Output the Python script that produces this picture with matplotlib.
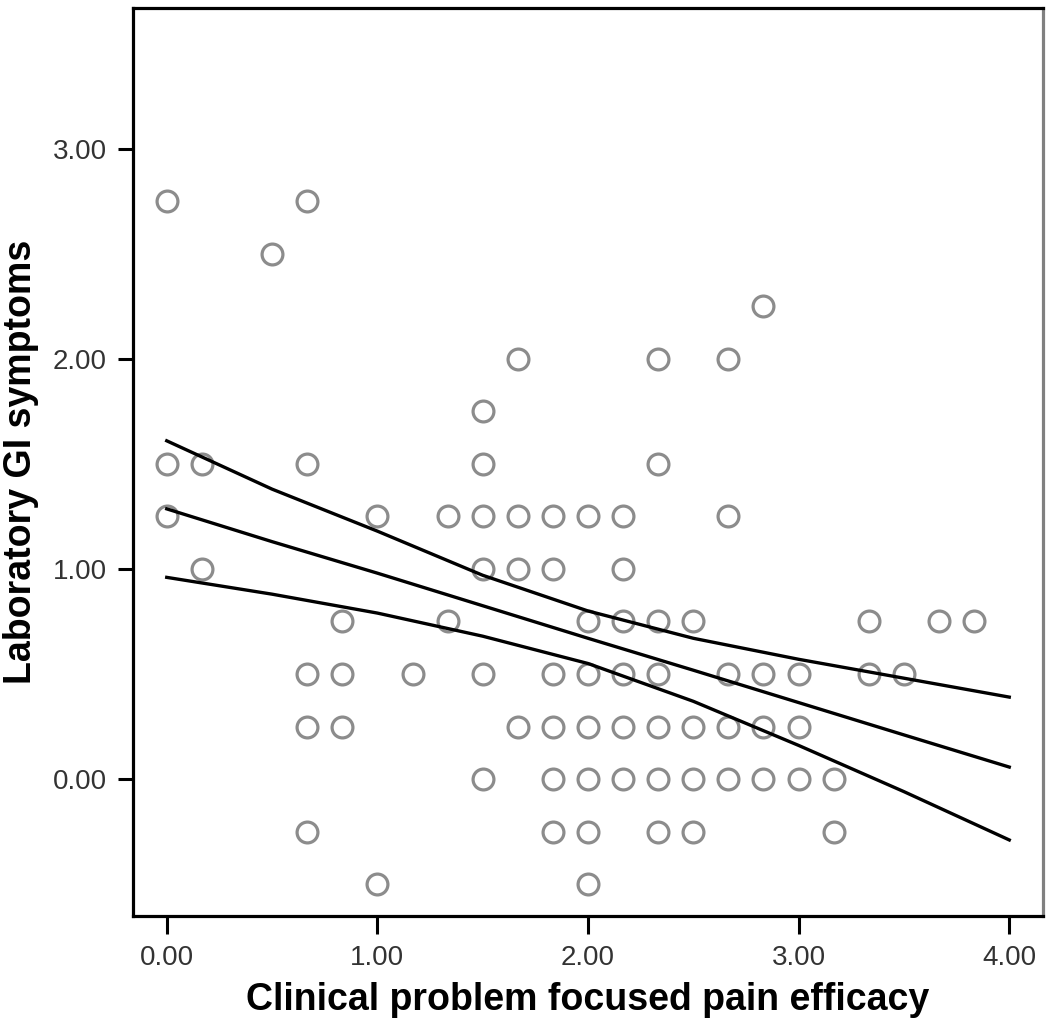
import numpy as np
import matplotlib
matplotlib.use("Agg")
import matplotlib.pyplot as plt

plt.rcParams['font.family'] = ['Liberation Sans', 'DejaVu Sans']

# scatter points (x = pain efficacy, y = GI symptoms), read row by row
pts_x = [0, 0.667,
         0.5,
         2.833,
         1.667, 2.333, 2.667,
         1.5,
         0, 0.167, 0.667, 1.5, 2.333,
         0, 1.0, 1.333, 1.5, 1.667, 1.833, 2.0, 2.167, 2.667,
         0.167, 1.5, 1.667, 1.833, 2.167,
         0.833, 1.333, 2.0, 2.167, 2.333, 2.5, 3.333, 3.667, 3.833,
         0.667, 0.833, 1.167, 1.5, 1.833, 2.0, 2.167, 2.333, 2.667, 2.833, 3.0, 3.333, 3.5,
         0.667, 0.833, 1.667, 1.833, 2.0, 2.167, 2.333, 2.5, 2.667, 2.833, 3.0,
         1.5, 1.833, 2.0, 2.167, 2.333, 2.5, 2.667, 2.833, 3.0, 3.167,
         0.667, 1.833, 2.0, 2.333, 2.5, 3.167,
         1.0, 2.0]
pts_y = [2.75]*2 + [2.5] + [2.25] + [2.0]*3 + [1.75] + [1.5]*5 + [1.25]*9 + \
        [1.0]*5 + [0.75]*9 + [0.5]*13 + [0.25]*11 + [0.0]*10 + [-0.25]*6 + [-0.5]*2

# fit line and confidence band
line_x = [0, 0.5, 1, 1.5, 2, 2.5, 3, 3.5, 4]
fit_y = [1.286, 1.13, 0.98, 0.825, 0.67, 0.518, 0.364, 0.21, 0.057]
upper_y = [1.61, 1.38, 1.18, 0.97, 0.80, 0.67, 0.57, 0.48, 0.39]
lower_y = [0.96, 0.88, 0.79, 0.68, 0.55, 0.37, 0.16, -0.06, -0.29]

fig = plt.figure(figsize=(10.5, 10.32), dpi=100)
ax = fig.add_axes([0.1267, 0.1124, 0.8666, 0.8798])

ax.plot(pts_x, pts_y, 'o', ms=15, mfc='none', mec='#8c8c8c', mew=2.3, zorder=2)
ax.plot(line_x, fit_y, color='black', lw=2.4, zorder=3)
ax.plot(line_x, upper_y, color='black', lw=2.4, zorder=3)
ax.plot(line_x, lower_y, color='black', lw=2.4, zorder=3)

ax.set_xlim(-0.16, 4.16)
ax.set_ylim(-0.652, 3.67)
ax.set_xticks([0, 1, 2, 3, 4])
ax.set_xticklabels(['0.00', '1.00', '2.00', '3.00', '4.00'])
ax.set_yticks([0, 1, 2, 3])
ax.set_yticklabels(['0.00', '1.00', '2.00', '3.00'])
ax.tick_params(axis='both', direction='out', width=2.2, labelsize=20,
               labelcolor='#333333', pad=8)
ax.tick_params(axis='x', length=13)
ax.tick_params(axis='y', length=11)

for s in ['left', 'bottom', 'top']:
    ax.spines[s].set_linewidth(2.3)
    ax.spines[s].set_color('black')
ax.spines['right'].set_linewidth(2.3)
ax.spines['right'].set_color('#808080')

ax.set_xlabel('Clinical problem focused pain efficacy', fontsize=27, fontweight='bold', labelpad=8)
ax.set_ylabel('Laboratory GI symptoms', fontsize=27, fontweight='bold', labelpad=10)

fig.savefig('out.png', dpi=100)
